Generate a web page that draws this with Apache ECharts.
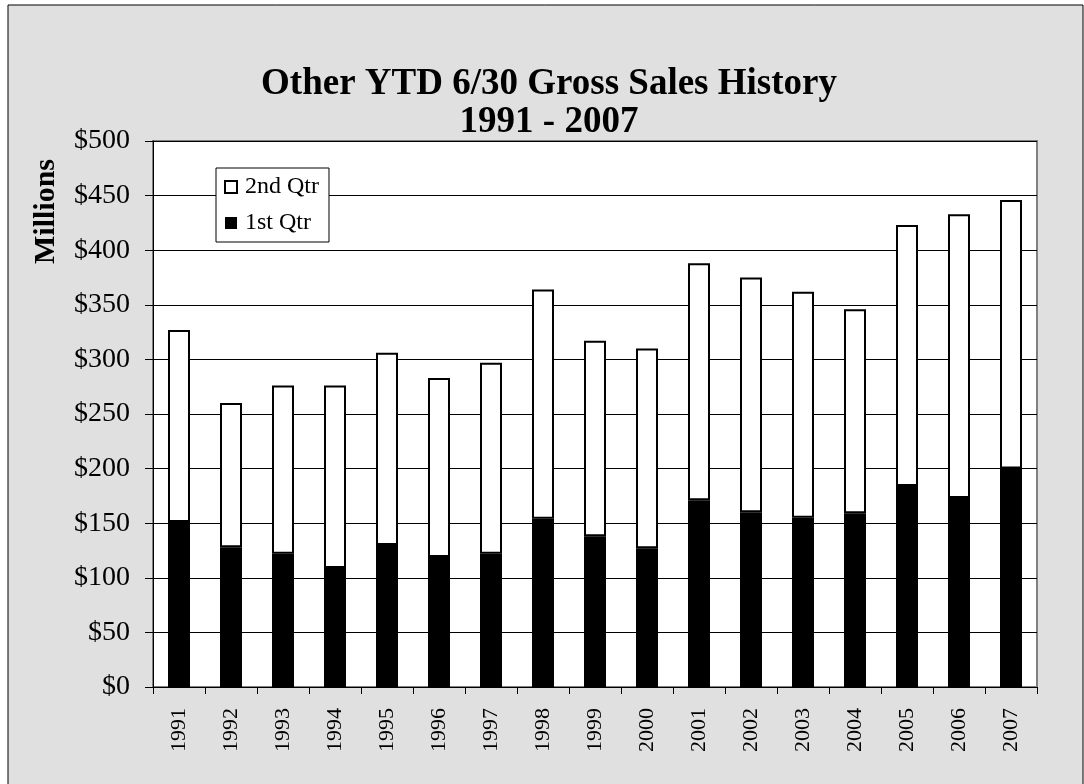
<!DOCTYPE html>
<html>
<head>
<meta charset="utf-8">
<script src="https://cdn.jsdelivr.net/npm/echarts@6/dist/echarts.min.js"></script>
<style>
  html, body { margin: 0; padding: 0; background: #ffffff; }
  #chart { width: 1084px; height: 784px; }
</style>
</head>
<body>
<div id="chart"></div>
<script>
const years = ['1991','1992','1993','1994','1995','1996','1997','1998','1999','2000','2001','2002','2003','2004','2005','2006','2007'];
const q1 = [151, 128, 122, 109, 130, 119, 122, 154, 138, 127, 171, 160, 155, 159, 184, 173, 200];
const q2 = [176, 132, 154, 167, 176, 164, 175, 210, 179, 183, 217, 215, 207, 187, 239, 260, 246];
const titleLines = ['Other YTD 6/30 Gross Sales History', '1991 - 2007'];
const yAxisName = 'Millions';

const serif = '"Liberation Serif", "Times New Roman", serif';
const chart = echarts.init(document.getElementById('chart'));
chart.setOption({
  animation: false,
  backgroundColor: '#ffffff',
  graphic: [{
    type: 'rect', z: -100, silent: true,
    shape: { x: 8, y: 5, width: 1075, height: 800 },
    style: { fill: '#e0e0e0', stroke: '#000000', lineWidth: 1 }
  }, {
    type: 'text', left: 31, top: 159, rotation: Math.PI / 2,
    style: { text: yAxisName, font: 'bold 30px ' + serif, fill: '#000' }
  }],
  title: {
    text: titleLines.join('\n'),
    left: 544, top: 60, textAlign: 'center',
    textStyle: { fontFamily: serif, fontWeight: 'bold', fontSize: 37, lineHeight: 38, color: '#000' }
  },
  legend: {
    orient: 'vertical', left: 216, top: 168,
    data: ['2nd Qtr', '1st Qtr'],
    icon: 'rect', itemWidth: 12, itemHeight: 12, itemGap: 12,
    backgroundColor: '#ffffff', borderColor: '#000000', borderWidth: 1,
    padding: [7, 10, 7, 8],
    textStyle: { fontFamily: serif, fontSize: 24, color: '#000', padding: [0, 0, 0, 3] }
  },
  grid: {
    left: 153, top: 141, right: 47, bottom: 97,
    show: true, backgroundColor: '#ffffff', borderColor: '#808080', borderWidth: 2
  },
  xAxis: {
    type: 'category', data: years,
    axisLine: { lineStyle: { color: '#000', width: 1 } },
    axisTick: { show: true, length: 7, lineStyle: { color: '#000' } },
    axisLabel: { rotate: 90, interval: 0, margin: 21, fontFamily: serif, fontSize: 22, color: '#000' }
  },
  yAxis: {
    type: 'value', min: 0, max: 500, interval: 50,
    axisLine: { show: true, lineStyle: { color: '#000', width: 1 } },
    axisTick: { show: true, length: 8, lineStyle: { color: '#000' } },
    axisLabel: { formatter: v => '$' + v, margin: 23, fontFamily: serif, fontSize: 28, color: '#000' },
    splitLine: { lineStyle: { color: '#000', width: 1 } }
  },
  series: [{
    name: '1st Qtr', type: 'bar', stack: 'total', data: q1, barWidth: 22,
    itemStyle: { color: '#000000', borderColor: '#000000', borderWidth: 0 }
  }, {
    name: '2nd Qtr', type: 'bar', stack: 'total', data: q2, barWidth: 22,
    itemStyle: { color: '#ffffff', borderColor: '#000000', borderWidth: 2 }
  }]
});
</script>
</body>
</html>
